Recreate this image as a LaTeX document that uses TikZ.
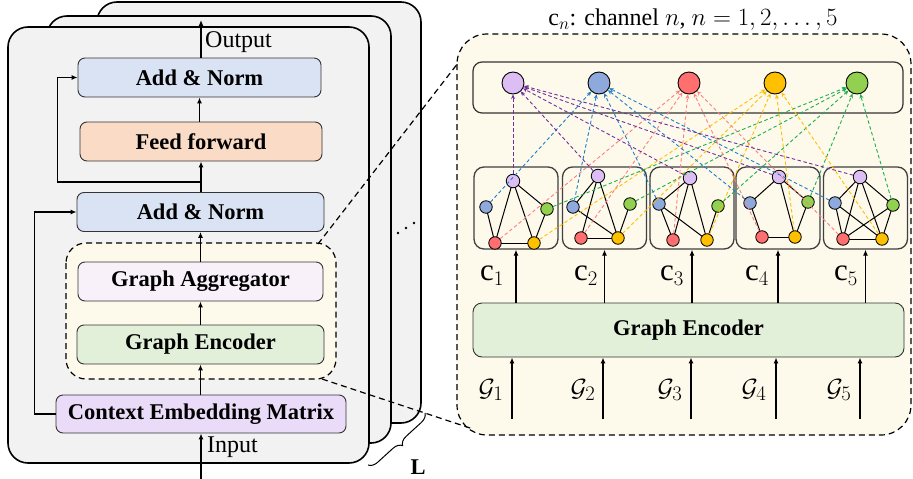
\documentclass[tikz,border=0pt]{standalone}
\usepackage{fontspec}
\setmainfont{Liberation Serif}
\usetikzlibrary{arrows.meta,calc,decorations.pathreplacing}
\definecolor{cardgray}{HTML}{F2F2F2}
\definecolor{anfill}{HTML}{DAE3F3}
\definecolor{fffill}{HTML}{FADBC6}
\definecolor{gafill}{HTML}{F8F1FA}
\definecolor{gefill}{HTML}{E2F0D9}
\definecolor{cemfill}{HTML}{EADCF8}
\definecolor{cream}{HTML}{FDF9EB}
\definecolor{npurple}{HTML}{DCBEF4}
\definecolor{nblue}{HTML}{8EA9DB}
\definecolor{nred}{HTML}{FF6F6F}
\definecolor{nyellow}{HTML}{FFC000}
\definecolor{ngreen}{HTML}{92D050}
\definecolor{dpurple}{HTML}{7030A0}
\definecolor{dblue}{HTML}{1F7FC8}
\definecolor{dred}{HTML}{FF7F7F}
\definecolor{dyellow}{HTML}{FFC000}
\definecolor{dgreen}{HTML}{1DB04E}
\tikzset{
  card/.style={draw=black, line width=1.6pt, fill=cardgray, rounded corners=20pt},
  blk/.style={draw=black!80, line width=0.9pt, rounded corners=7pt, minimum height=39pt,
    font=\fontsize{22.5}{27}\selectfont\bfseries, inner sep=0pt},
  arr/.style={-{Latex[length=6pt,width=5pt]}, line width=1.2pt},
  gnode/.style={circle, draw=black, line width=0.8pt, minimum size=12.5pt, inner sep=0pt},
  topnode/.style={circle, draw=black, line width=0.9pt, minimum size=22pt, inner sep=0pt},
  gbox/.style={draw=black!75, line width=1.3pt, rounded corners=10pt, fill=cream,
    minimum width=84pt, minimum height=82pt, inner sep=0pt},
  cdash/.style={dash pattern=on 3.5pt off 2.5pt, line width=0.9pt, -{Stealth[length=4.5pt,width=4pt]}},
  bigdash/.style={dash pattern=on 6pt off 4pt, line width=1.2pt},
  gedge/.style={line width=1pt},
  lbl/.style={font=\fontsize{24}{28}\selectfont, inner sep=0pt},
  clbl/.style={font=\fontsize{31}{34}\selectfont, inner sep=0pt},
  dotmark/.style={circle, fill=black, inner sep=0pt, minimum size=2.6pt},
}
\begin{document}
\begin{tikzpicture}[x=1pt,y=-1pt]
\useasboundingbox (0,0) rectangle (913,479);
% ---------- left stack of cards
\draw[card] (97,2) rectangle (421,423);
\draw[card] (47,16) rectangle (391,443);
\draw[card] (8,27) rectangle (369,463);
\node[dotmark] (dot1) at (398,233) {};
\node[dotmark] (dot2) at (406,228) {};
\node[dotmark] (dot3) at (414,223) {};
\draw[line width=1pt, decorate, decoration={brace, amplitude=9pt}] (425,413) -- (368,465);
\node[font=\fontsize{22.5}{27}\selectfont\bfseries] (Lbl) at (418,467) {L};

% container
\draw[bigdash, fill=cream, rounded corners=20pt] (66,243) rectangle (336,379);
\coordinate (cont-ne) at (318,244);
\coordinate (cont-se) at (322,379);

% boxes
\node[blk, fill=anfill, minimum width=243pt] (an2) at (199.5,77.5) {Add \& Norm};
\node[blk, fill=fffill, minimum width=242pt] (ff) at (201,141.5) {Feed forward};
\node[blk, fill=anfill, minimum width=247pt] (an1) at (200.5,212) {Add \& Norm};
\node[blk, fill=gafill, minimum width=245pt] (ga) at (200.5,281.5) {Graph Aggregator};
\node[blk, fill=gefill, minimum width=247pt] (ge) at (200.5,344.5) {Graph Encoder};
\node[blk, fill=cemfill, minimum width=290pt, minimum height=38pt] (cem) at (201,414) {Context Embedding Matrix};

\coordinate (inp) at (201,479);
\coordinate (outp) at (201,20);
\draw[arr] (inp) -- (inp |- cem.south);
\node[lbl, anchor=west] (inlbl) at (207,447) {Input};
\draw[arr] (an2.north -| outp) -- (outp);
\node[lbl, anchor=west] (outlbl) at (205,42) {Output};
\draw[arr] (an1.north -| ff.south) -- (ff.south);
\draw[arr] (ff.north -| an2.south) -- (an2.south);
\draw[arr] (ga.north -| an1.south) -- (an1.south);
\draw[arr] (ge.north -| ga.south) -- (ga.south);
\draw[arr] (cem.north -| ge.south) -- (ge.south);
\coordinate (res1) at (200,182);
\draw[arr] (res1) -| ($(an2.west)+(-20,0)$) -- (an2.west);
\draw[arr] (cem.west) -| ($(an1.west)+(-42,0)$) -- (an1.west);

% ---------- right panel
\draw[bigdash, fill=cream, rounded corners=30pt] (457,34) rectangle (911,435);
\coordinate (big-nw) at (458,63);
\coordinate (big-sw) at (473,429);
\draw[bigdash] (cont-ne) -- (big-nw);
\draw[bigdash] (cont-se) -- (big-sw);

\node[font=\fontsize{24}{28}\selectfont] (title) at (693,20) {$\mathrm{c}_n$: channel $n$, $n=1,2,\ldots,5$};

\draw[draw=black!80, line width=1.2pt, fill=cream, rounded corners=9pt] (473,62) rectangle (903,113);
\node[topnode, fill=npurple] (tp) at (513,83) {};
\node[topnode, fill=nblue] (tb) at (599,83) {};
\node[topnode, fill=nred] (tr) at (689,83) {};
\node[topnode, fill=nyellow] (ty) at (775,83) {};
\node[topnode, fill=ngreen] (tg) at (857,83) {};

\node[gbox] (gb1) at (516,208) {};
\node[gbox] (gb2) at (604.5,208) {};
\node[gbox] (gb3) at (692,208) {};
\node[gbox] (gb4) at (778,208) {};
\node[gbox] (gb5) at (865.5,208) {};

% graph node coordinates
\foreach \i/\px/\py/\bx/\by/\gx/\gy/\rx/\ry/\yx/\yy in {
  1/513/181/486/207/547/209/495/243/534/243,
  2/598/176/573/207/630/204/581/238/618/238,
  3/690/178/659/204/718/206/673/240/707/240,
  4/779/177/750/203/808/202/762/237/795/237,
  5/860/177/835/203/893/205/843/239/882/239}{
  \coordinate (p\i) at (\px,\py);
  \coordinate (b\i) at (\bx,\by);
  \coordinate (g\i) at (\gx,\gy);
  \coordinate (r\i) at (\rx,\ry);
  \coordinate (y\i) at (\yx,\yy);
}
% black edges
\foreach \a/\b in {p1/r1,p1/y1,p1/g1,b1/r1,r1/y1,g1/y1,
  p2/b2,p2/r2,p2/y2,b2/y2,r2/y2,g2/y2,
  p3/b3,p3/r3,p3/y3,b3/r3,b3/y3,g3/y3,
  p4/b4,p4/y4,p4/g4,b4/r4,r4/y4,g4/y4,
  p5/b5,p5/r5,p5/y5,p5/g5,b5/r5,b5/y5,r5/y5,r5/g5,g5/y5}{
  \draw[gedge] (\a) -- (\b);
}
% graph nodes
\foreach \i in {1,...,5}{
  \node[gnode, fill=npurple, minimum size=13.5pt] (np\i) at (p\i) {};
  \node[gnode, fill=nblue] (nb\i) at (b\i) {};
  \node[gnode, fill=ngreen] (ng\i) at (g\i) {};
  \node[gnode, fill=nred] (nr\i) at (r\i) {};
  \node[gnode, fill=nyellow] (ny\i) at (y\i) {};
}
% dashed coloured arrows
\foreach \i in {1,...,5}{
  \draw[cdash, dred] (nr\i) -- (tr);
  \draw[cdash, dyellow] (ny\i) -- (ty);
  \draw[cdash, dgreen] (ng\i) -- (tg);
  \draw[cdash, dblue] (nb\i) -- (tb);
  \draw[cdash, dpurple] (np\i) -- (tp);
}

% encoder
\node[blk, fill=gefill, minimum width=431pt, minimum height=54pt, rounded corners=9pt] (ge2) at (688.5,330) {Graph Encoder};
\foreach \i/\lx in {1/492,2/586,3/672,4/757,5/846}{
  \draw[arr] (ge2.north -| gb\i.south) -- (gb\i.south);
  \node[clbl] (cl\i) at (\lx,276) {$\mathrm{c}_{\i}$};
}
\foreach \i/\ax/\lx in {1/512/491,2/603/583,3/691/670,4/776/754,5/860/839}{
  \coordinate (gin\i) at (\ax,419);
  \draw[arr] (gin\i) -- (gin\i |- ge2.south);
  \node[clbl] (gl\i) at (\lx,390) {$\mathcal{G}_{\i}$};
}
\end{tikzpicture}
\end{document}
